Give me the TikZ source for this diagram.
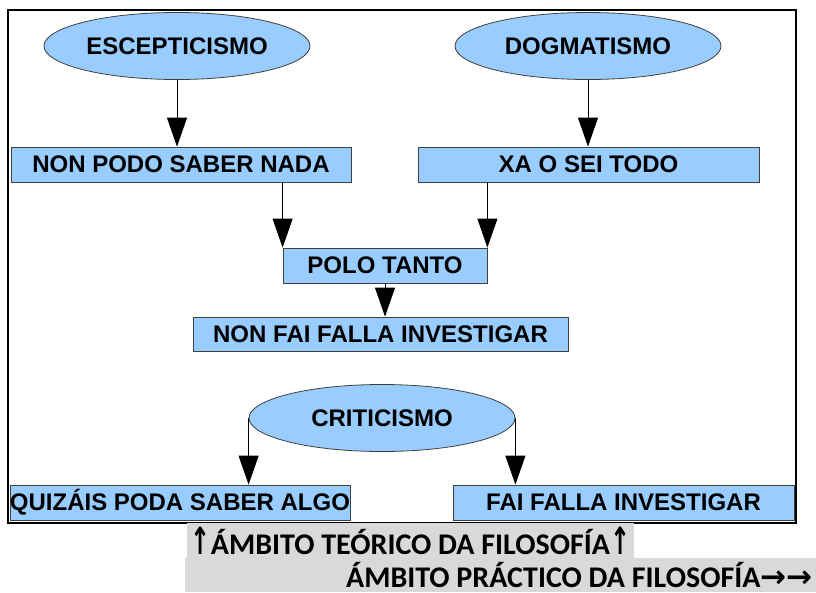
\documentclass[tikz,border=0pt]{standalone}
\usepackage{graphicx}
\usepackage{fontspec}
\setmainfont{Liberation Sans}
\newfontfamily\calibfont{Carlito}
\newfontfamily\arrowfont{DejaVu Sans}
\usetikzlibrary{arrows.meta,shapes.geometric}
\definecolor{boxblue}{HTML}{99CCFF}
\definecolor{bandgray}{HTML}{D9D9D9}
\tikzset{schoolbox/.style={draw=black!75,fill=boxblue,line width=0.8pt,
    inner sep=0pt,minimum height=35pt,
    font=\fontsize{24}{28}\selectfont\bfseries},
    school/.style={ellipse,draw=black!75,fill=boxblue,line width=0.8pt,
    inner sep=0pt,minimum width=266pt,minimum height=67pt,
    font=\fontsize{24}{28}\selectfont\bfseries}}
\newcommand{\uparr}{\scalebox{0.8}[1.25]{\arrowfont\bfseries\fontsize{30}{30}\selectfont\char"2191}}
\newcommand{\rightarr}{{\arrowfont\bfseries\fontsize{31}{30}\selectfont\char"2192}}

\begin{document}
\begin{tikzpicture}[x=1pt,y=-1pt,
    band/.style={fill=bandgray,inner sep=0pt,minimum height=35pt,
    font=\fontsize{30}{32}\selectfont\calibfont\bfseries}]
        \useasboundingbox (0,0) rectangle (816,592);
        \draw[line width=1.8pt] (8,10) rectangle (796,523);

        % escolas
        \node[school] (esc) at (177,46) {ESCEPTICISMO};
        \node[school] (dog) at (588,46) {DOGMATISMO};
        \node[school] (crit) at (382,418) {CRITICISMO};

        % afirmacions
        \node[schoolbox,minimum width=340pt] (nada) at (181,164.5) {NON PODO SABER NADA};
        \node[schoolbox,minimum width=341pt] (todo) at (588.5,164.5) {XA O SEI TODO};
        \node[schoolbox,minimum width=204pt] (polo) at (385,265.5) {POLO TANTO};
        \node[schoolbox,minimum width=375pt,minimum height=34pt] (nonfai) at (380.5,334) {NON FAI FALLA INVESTIGAR};
        \node[schoolbox,minimum width=340pt] (quiz) at (180,502.5) {QUIZ\'AIS PODA SABER ALGO};
        \node[schoolbox,minimum width=341pt] (fai) at (623.5,502.5) {FAI FALLA INVESTIGAR};

        % ambitos
        \node[band,minimum width=447pt] (teor) at (410.5,540.5)
            {\uparr\'AMBITO TE\'ORICO DA FILOSOF\'IA\uparr};
        \node[band,minimum width=631pt,minimum height=34pt,text width=624pt,align=flush right] (prac) at (500.5,575)
            {\'AMBITO PR\'ACTICO DA FILOSOF\'IA\rightarr\rightarr};

        \path[->,>={Triangle[width=20pt,length=29pt]},
            every edge/.style={draw=black,line width=0.8pt}]
        (esc.south) edge (esc.south |- nada.north)
        (dog.south) edge (dog.south |- todo.north)
        (polo.north west |- nada.south) edge (polo.north west)
        (polo.north east |- todo.south) edge (polo.north east)
        (polo.south) edge (polo.south |- nonfai.north)
        (crit.west) edge (crit.west |- quiz.north)
        (crit.east) edge (crit.east |- fai.north);
\end{tikzpicture}
\end{document}
